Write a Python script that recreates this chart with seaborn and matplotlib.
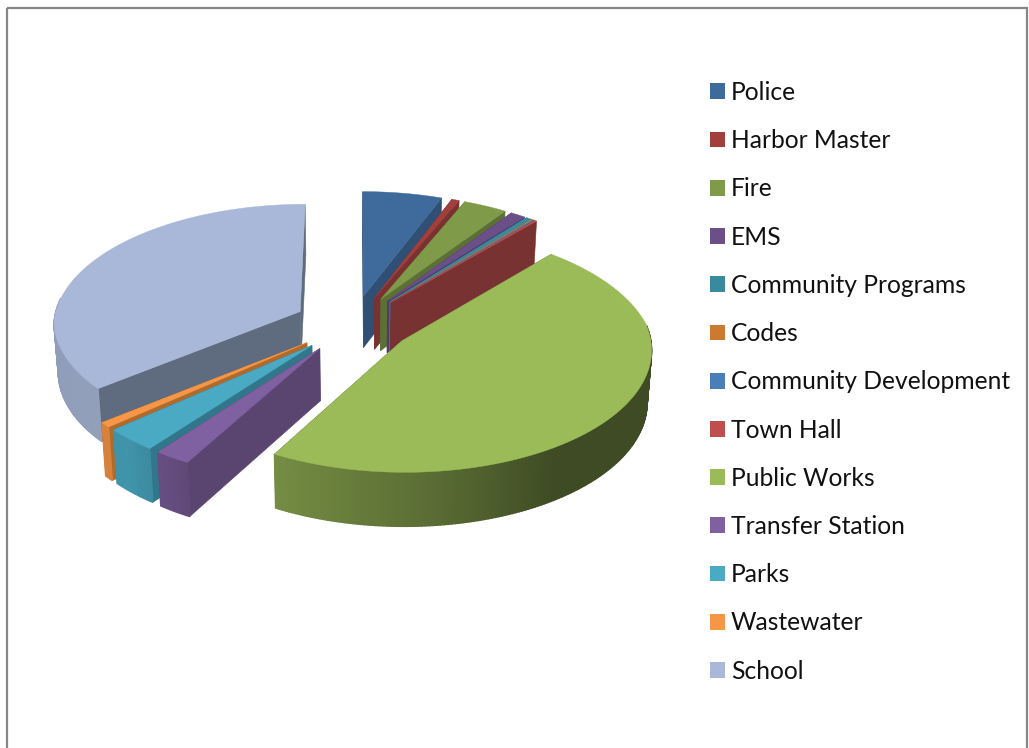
import numpy as np
import matplotlib
matplotlib.use("Agg")
import matplotlib.pyplot as plt
from matplotlib.patches import Patch, Rectangle
import seaborn as sns

# Budget share by department, percent
departments = ["Police", "Harbor Master", "Fire", "EMS", "Community Programs", "Codes",
               "Community Development", "Town Hall", "Public Works", "Transfer Station",
               "Parks", "Wastewater", "School"]
shares = [5.85, 0.55, 3.2, 1.1, 0.4, 0.1, 0.1, 0.15, 46.8, 2.2, 3.2, 0.7, 35.7]

top_hex = ["#3f6a9c", "#a03f3c", "#7f9a48", "#6a4f88", "#3a8a9f", "#cc7a30", "#4a7ebb",
           "#bf4f4c", "#9bbb59", "#7f60a0", "#4aaac4", "#f79646", "#a9b8d8"]
side_hex = ["#2f4f75", "#7a3231", "#5c7035", "#4f3c68", "#31768a", "#a8642a", "#3a6290",
            "#783231", "#5d7035", "#5a4570", "#31768a", "#b06a2c", "#5f6b7e"]

sns.set_theme(style="white")
plt.rcParams["font.family"] = ["Lato", "DejaVu Sans"]
top_colors = sns.color_palette(top_hex)
side_colors = sns.color_palette(side_hex)

# Camera and pie geometry
CX, CY = 353.0, 324.0
RX, RY = 247.0, 121.0
PERSP_FAR, PERSP_NEAR = 0.105, 0.062
EXPLODE = 0.24
DEPTH = 52.0
SHRINK = 0.985


def project(X, Y, lower=False):
    X, Y = np.asarray(X, float), np.asarray(Y, float)
    s = 1.0 / (1.0 + np.where(Y > 0, PERSP_FAR, PERSP_NEAR) * Y)
    px = CX + RX * X * s
    py = CY - RY * Y * s
    if lower:
        px = CX + (px - CX) * SHRINK
        py = py + DEPTH * (1 - 0.035 * Y)
    return px, py


def rim_shade(theta):
    return np.interp(theta, [41, 145, 174, 209, 225, 270, 360],
                     [0.40, 0.40, 0.58, 0.75, 0.87, 0.85, 0.85])


fig = plt.figure(figsize=(10.29, 7.48), dpi=100)
ax = fig.add_axes([0, 0, 1, 1])
ax.set_xlim(0, 1029)
ax.set_ylim(748, 0)
ax.set_axis_off()
ax.add_patch(Rectangle((7, 8), 1020, 760, fill=False, edgecolor="#868686", linewidth=1.6))

edges = np.concatenate([[0], np.cumsum(shares)]) / np.sum(shares) * 360.0
slices = []
for i in range(len(shares)):
    t1, t2 = edges[i], edges[i + 1]
    mid = np.radians((t1 + t2) / 2)
    ox, oy = EXPLODE * np.sin(mid), EXPLODE * np.cos(mid)
    slices.append((float(project(ox, oy)[1]), i, t1, t2, ox, oy))

# Paint from the back of the view to the front
for _, i, t1, t2, ox, oy in sorted(slices, key=lambda r: r[0]):
    n = max(int((t2 - t1) * 1.2), 2)
    th = np.linspace(t1, t2, n + 1)
    rx = ox + np.sin(np.radians(th))
    ry = oy + np.cos(np.radians(th))
    ax0, ay0 = project(ox, oy)
    bx0, by0 = project(ox, oy, lower=True)
    tx, ty = project(rx, ry)
    bx, by = project(rx, ry, lower=True)

    # flat cut faces running from the centre out to the rim
    for k in (0, -1):
        ax.fill([ax0, tx[k], bx[k], bx0], [ay0, ty[k], by[k], by0],
                color=side_colors[i], linewidth=0.4, zorder=2)

    # curved outer wall, shaded strip by strip; only the side facing the viewer
    for k in range(n):
        centre = (th[k] + th[k + 1]) / 2
        if np.cos(np.radians(centre)) > 0.12:
            continue
        tone = np.array(top_colors[i]) * rim_shade(centre)
        ax.fill([tx[k], tx[k + 1], bx[k + 1], bx[k]], [ty[k], ty[k + 1], by[k + 1], by[k]],
                color=tuple(tone), linewidth=1.0, zorder=2)

    ax.fill(np.r_[ax0, tx], np.r_[ay0, ty], color=top_colors[i], linewidth=0.3, zorder=2)

handles = [Patch(facecolor=c, edgecolor="none", label=d) for c, d in zip(top_colors, departments)]
ax.legend(handles=handles, loc="upper left", bbox_to_anchor=(710 / 1029, 1 - 81 / 748),
          frameon=False, fontsize=17.75, labelcolor="#111111", handlelength=0.61, handleheight=0.61,
          handletextpad=0.24, labelspacing=1.023, borderpad=0, borderaxespad=0)

fig.savefig("out.png", dpi=100)
